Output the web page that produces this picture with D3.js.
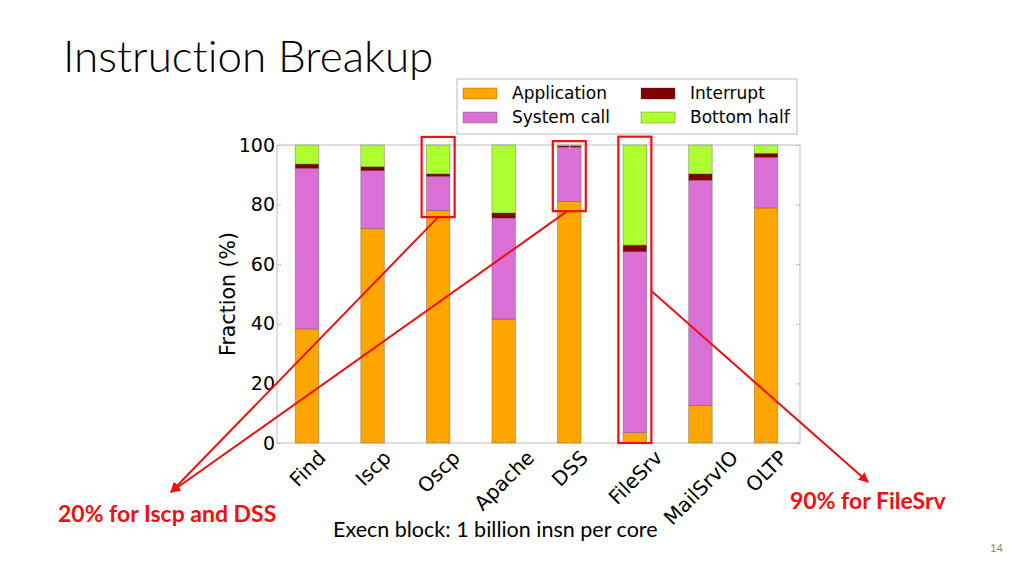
<!DOCTYPE html>
<html>
<head>
<meta charset="utf-8">
<script src="https://cdn.jsdelivr.net/npm/d3@7"></script>
<style>
  html, body { margin: 0; padding: 0; background: #fff; }
  svg { display: block; }
  text { font-variant-ligatures: none; }
</style>
</head>
<body>
<script>
// Chart data (percent of instructions per workload)
const categories = ["Find", "Iscp", "Oscp", "Apache", "DSS", "FileSrv", "MailSrvIO", "OLTP"];
const application = [38.3, 72.0, 78.0, 41.6, 81.1, 3.5, 12.6, 78.9];
const systemCall = [53.9, 19.4, 11.5, 33.9, 18.2, 60.7, 75.6, 17.0];
const interrupt = [1.4, 1.3, 0.8, 1.7, 0.4, 2.2, 2.1, 1.3];
const bottomHalf = [6.4, 7.3, 9.7, 22.8, 0.3, 33.6, 9.7, 2.8];
const seriesNames = ["Application", "System call", "Interrupt", "Bottom half"];
const yTicks = [0, 20, 40, 60, 80, 100];

const width = 1024, height = 576;
const plot = { left: 277, right: 800, top: 145, bottom: 443 };
const colors = {
  "Application": "#ffa500",
  "System call": "#da70d6",
  "Interrupt": "#800000",
  "Bottom half": "#adff2f"
};
const red = "#ee1111";

const svg = d3.select("body").append("svg")
    .attr("width", width)
    .attr("height", height);

// Title
svg.append("text")
    .attr("x", 63)
    .attr("y", 72)
    .attr("font-family", "Lato")
    .attr("font-weight", 300)
    .attr("font-size", 44)
    .attr("fill", "#000")
    .text("Instruction Breakup");

// Scales
const x = d3.scalePoint()
    .domain(categories)
    .range([307, 766]);
const barWidth = 23.5;

const y = d3.scaleLinear()
    .domain([0, 100])
    .range([plot.bottom, plot.top]);

// Stack the series
const rows = categories.map((c, i) => ({
  cat: c,
  "Application": application[i],
  "System call": systemCall[i],
  "Interrupt": interrupt[i],
  "Bottom half": bottomHalf[i]
}));
const stacked = d3.stack().keys(seriesNames)(rows);

// Plot frame
svg.append("rect")
    .attr("x", plot.left)
    .attr("y", plot.top)
    .attr("width", plot.right - plot.left)
    .attr("height", plot.bottom - plot.top)
    .attr("fill", "none")
    .attr("stroke", "#bdbdbd")
    .attr("stroke-width", 1);

// Bars
svg.append("g")
  .selectAll("g")
  .data(stacked)
  .join("g")
    .attr("fill", d => colors[d.key])
  .selectAll("rect")
  .data(d => d)
  .join("rect")
    .attr("x", d => x(d.data.cat) - barWidth / 2)
    .attr("y", d => y(d[1]))
    .attr("width", barWidth)
    .attr("height", d => y(d[0]) - y(d[1]))
    .attr("stroke", "rgba(90,70,60,0.45)")
    .attr("stroke-width", 0.8);

// Y axis (ticks point inward like matplotlib)
const yAxis = svg.append("g")
    .attr("transform", `translate(${plot.left},0)`)
    .call(d3.axisLeft(y).tickValues(yTicks).tickSize(-4).tickPadding(2));
yAxis.select(".domain").remove();
yAxis.selectAll("line").attr("stroke", "#bdbdbd");
yAxis.selectAll("text")
    .attr("font-family", "DejaVu Sans")
    .attr("font-size", 19)
    .attr("fill", "#000");

// Right side ticks
const yRight = svg.append("g")
    .attr("transform", `translate(${plot.right},0)`)
    .call(d3.axisRight(y).tickValues(yTicks).tickSize(-4).tickFormat(""));
yRight.select(".domain").remove();
yRight.selectAll("line").attr("stroke", "#bdbdbd");

// X axis with 45 degree labels
const labelSize = 20;
const xAxis = svg.append("g")
    .attr("transform", `translate(0,${plot.bottom})`)
    .call(d3.axisBottom(x).tickSize(-4).tickPadding(0));
xAxis.select(".domain").remove();
xAxis.selectAll("line").attr("stroke", "#bdbdbd");
xAxis.selectAll("text")
    .attr("font-family", "DejaVu Sans")
    .attr("font-size", labelSize)
    .attr("fill", "#000")
    .attr("text-anchor", "middle")
    .attr("y", 0)
    .attr("dy", "0.35em")
    .attr("transform", function () {
      const L = this.getComputedTextLength();
      const half = (L + labelSize * 0.85) * 0.3536;
      return `translate(0,${5 + half}) rotate(-45)`;
    });

// Top ticks
const xTop = svg.append("g")
    .attr("transform", `translate(0,${plot.top})`)
    .call(d3.axisTop(x).tickSize(-4).tickFormat(""));
xTop.select(".domain").remove();
xTop.selectAll("line").attr("stroke", "#bdbdbd");

// Y axis label
svg.append("text")
    .attr("transform", `translate(235,${(plot.top + plot.bottom) / 2}) rotate(-90)`)
    .attr("text-anchor", "middle")
    .attr("font-family", "DejaVu Sans")
    .attr("font-size", 20.5)
    .attr("fill", "#000")
    .text("Fraction (%)");

// Legend
const legend = svg.append("g");
legend.append("rect")
    .attr("x", 457).attr("y", 79)
    .attr("width", 340).attr("height", 55)
    .attr("fill", "#fff")
    .attr("stroke", "#bbbbbb");
seriesNames.forEach((name, i) => {
  const col = Math.floor(i / 2), row = i % 2;
  const lx = 463 + col * 178, ly = 88 + row * 24;
  legend.append("rect")
      .attr("x", lx).attr("y", ly)
      .attr("width", 34).attr("height", 11)
      .attr("fill", colors[name])
      .attr("stroke", "rgba(90,70,60,0.45)")
      .attr("stroke-width", 0.8);
  legend.append("text")
      .attr("x", lx + 49).attr("y", ly + 5.5)
      .attr("dy", "0.35em")
      .attr("font-family", "DejaVu Sans")
      .attr("font-size", 17)
      .attr("fill", "#000")
      .text(name);
});

// Highlight boxes around Oscp, DSS and FileSrv
const boxes = [
  { cat: "Oscp", lo: 75.8, hi: 102.7 },
  { cat: "DSS", lo: 77.8, hi: 101.3 },
  { cat: "FileSrv", lo: 0, hi: 102.8 }
];
svg.append("g")
  .selectAll("rect")
  .data(boxes)
  .join("rect")
    .attr("x", d => x(d.cat) - 16.5)
    .attr("y", d => y(d.hi))
    .attr("width", 33)
    .attr("height", d => y(d.lo) - y(d.hi))
    .attr("fill", "none")
    .attr("stroke", red)
    .attr("stroke-width", 2.2);

// Arrows
svg.append("defs").append("marker")
    .attr("id", "head")
    .attr("viewBox", "0 0 10 10")
    .attr("refX", 9).attr("refY", 5)
    .attr("markerWidth", 5).attr("markerHeight", 5)
    .attr("orient", "auto")
  .append("path")
    .attr("d", "M0,0 L10,5 L0,10 z")
    .attr("fill", red);

const arrows = [
  { x1: x("Oscp"), y1: y(75.8), x2: 171, y2: 492 },
  { x1: x("DSS") - 2, y1: y(77.8), x2: 171, y2: 492 },
  { x1: x("FileSrv") + 16.5, y1: y(51), x2: 868, y2: 482 }
];
svg.append("g")
  .selectAll("line")
  .data(arrows)
  .join("line")
    .attr("x1", d => d.x1).attr("y1", d => d.y1)
    .attr("x2", d => d.x2).attr("y2", d => d.y2)
    .attr("stroke", red)
    .attr("stroke-width", 2)
    .attr("marker-end", "url(#head)");

// Annotation texts
svg.append("text")
    .attr("x", 58).attr("y", 522)
    .attr("font-family", "Lato")
    .attr("font-weight", 700)
    .attr("font-size", 23)
    .attr("fill", red)
    .text("20% for Iscp and DSS");

svg.append("text")
    .attr("x", 790).attr("y", 509)
    .attr("font-family", "Lato")
    .attr("font-weight", 700)
    .attr("font-size", 23)
    .attr("fill", red)
    .text("90% for FileSrv");

svg.append("text")
    .attr("x", 333).attr("y", 537)
    .attr("font-family", "Lato")
    .attr("font-size", 21.5)
    .attr("fill", "#000")
    .text("Execn block: 1 billion insn per core");

svg.append("text")
    .attr("x", 990).attr("y", 552)
    .attr("font-family", "Lato")
    .attr("font-size", 11)
    .attr("fill", "#888")
    .text("14");
</script>
</body>
</html>
